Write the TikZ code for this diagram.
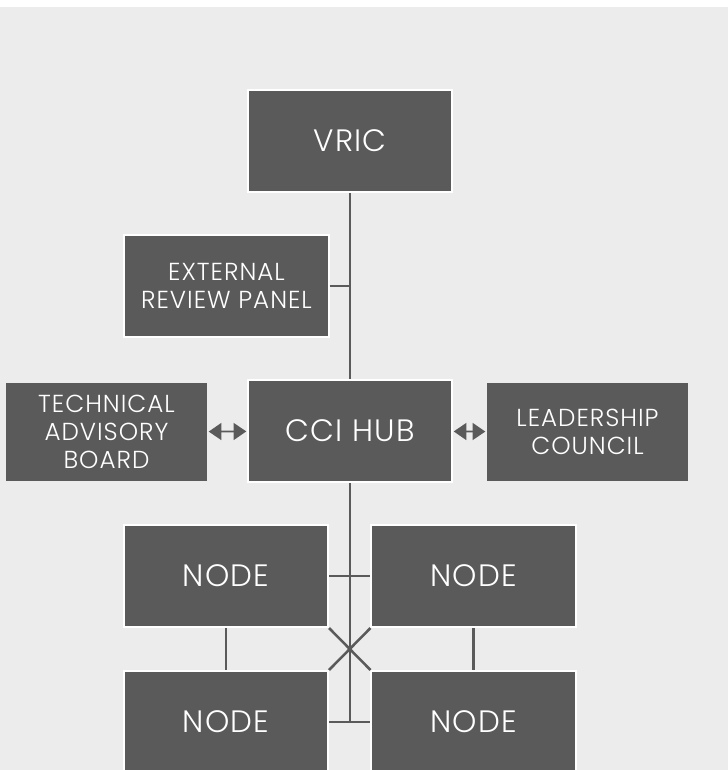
\documentclass[tikz,border=0pt]{standalone}
\usepackage{fontspec}
\setmainfont{Poppins}[UprightFont=* Light, LetterSpace=4]
\usetikzlibrary{arrows.meta}
\definecolor{fundo}{HTML}{ECECEC}
\definecolor{caixa}{HTML}{5A5A5A}

\begin{document}
\begin{tikzpicture}[x=0.025cm, y=-0.025cm,
    orgbox/.style={fill=caixa, draw=white, line width=1.4pt, text=white,
        minimum width=5.1cm, minimum height=2.55cm, inner sep=0pt,
        align=center, font=\fontsize{22}{26}\selectfont},
    small/.style={font=\fontsize{17.5}{20}\selectfont},
    sidebox/.style={orgbox, small, draw=none, minimum width=5.025cm, minimum height=2.45cm},
    link/.style={draw=caixa, line width=1.8pt},
    both/.style={draw=caixa, line width=1.3pt, shorten <=0.5pt, shorten >=0.5pt,
        {Triangle[length=9pt,width=12pt]}-{Triangle[length=9pt,width=12pt]}}]
        \fill[white] (0,0) rectangle (728,770);
        \fill[fundo] (0,7) rectangle (728,770);
        \clip (0,0) rectangle (728,770);

        \node[orgbox] (vric) at (350,141) {VRIC};
        \node[orgbox, small] (painel) at (226.5,286) {EXTERNAL\\REVIEW PANEL};
        \node[orgbox] (hub) at (350,431) {CCI HUB};
        \node[sidebox] (tecnico) at (106.5,432) {TECHNICAL\\ADVISORY\\BOARD};
        \node[sidebox] (lideranca) at (587.5,432) {LEADERSHIP\\COUNCIL};

        \node[orgbox] (no1) at (226,576) {NODE};
        \node[orgbox] (no2) at (473.5,576) {NODE};
        \node[orgbox] (no3) at (226,722) {NODE};
        \node[orgbox] (no4) at (473.5,722) {NODE};

        \draw[link] (vric) -- (hub);
        \draw[link] (painel.east) -- (painel.east -| vric.south);
        \draw[link] (hub.south) -- (hub.south |- no3.east);
        \draw[link] (no1.east) -- (no2.west);
        \draw[link] (no3.east) -- (no4.west);
        \draw[link] (no1.south east) -- (no4.north west);
        \draw[link] (no2.south west) -- (no3.north east);
        \draw[link] (no1) -- (no3);
        \draw[link] (no2) -- (no4);

        \draw[both] (tecnico) -- (hub);
        \draw[both] (hub) -- (lideranca);
    \end{tikzpicture}
\end{document}
